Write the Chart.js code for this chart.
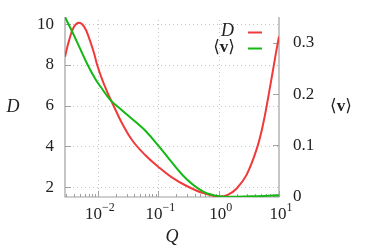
<!DOCTYPE html>
<html><head><meta charset="utf-8">
<script src="https://cdn.jsdelivr.net/npm/chart.js@4"></script>
<style>html,body{margin:0;padding:0;background:#fff}#wrap{width:374px;height:249px}</style>
</head><body><div id="wrap"><canvas id="c" width="374" height="249"></canvas></div>
<script>
// ---- data ----
const qD = [0.00285,0.00332,0.00401,0.00485,0.00587,0.0071,0.00859,0.00973,0.01178,0.01425,0.01616,0.01954,0.02523,0.0369,0.0612,0.0993,0.163,0.296,0.556,1.02,1.44,1.99,2.9,4.25,5.46,7.04,8.85,10];
const dVals = [8.4,9.2,9.88,10.08,9.9,9.35,8.6,8.0,7.28,6.68,6.32,5.8,5.12,4.3,3.56,3.0,2.5,2.05,1.7,1.53,1.63,1.93,2.6,3.85,5.1,6.85,8.55,9.4];
const qV = [0.00285,0.00376,0.00485,0.00665,0.00912,0.01178,0.01616,0.02523,0.0414,0.0612,0.102,0.163,0.296,0.556,1.02,1.99,4.5,10];
const vVals = [0.351,0.322,0.294,0.259,0.229,0.21,0.188,0.168,0.146,0.128,0.098,0.068,0.033,0.009,0.0,-0.001,0.0,0.0015];
const xTicks = [0.01,0.1,1,10];
const xTickExp = ['\u22122','\u22121','0','1'];
const dTicks = [2,4,6,8,10];
const vTicks = [0,0.1,0.2,0.3];
const vTickLabels = ['0','0.1','0.2','0.3'];

const RED = '#f03a3a', GREEN = '#13b813';
const AXIS = '#a0a0a0', GRID = '#c4c4c4';
const FONT = '"Liberation Serif", "DejaVu Serif", serif';

const axesPlugin = {
  id: 'axesPlugin',
  beforeDatasetsDraw(chart) {
    const ctx = chart.ctx, a = chart.chartArea;
    const x = chart.scales.x, yD = chart.scales.yD, yV = chart.scales.yV;
    ctx.save();
    // grid
    ctx.strokeStyle = GRID; ctx.lineWidth = 1; ctx.setLineDash([1,3]);
    dTicks.forEach(t => { const py = Math.round(yD.getPixelForValue(t)) + 0.5;
      ctx.beginPath(); ctx.moveTo(a.left, py); ctx.lineTo(a.right, py); ctx.stroke(); });
    xTicks.slice(0,3).forEach(t => { const px = Math.round(x.getPixelForValue(t)) + 0.5;
      ctx.beginPath(); ctx.moveTo(px, a.bottom); ctx.lineTo(px, a.top); ctx.stroke(); });
    ctx.setLineDash([]);
    // axes lines
    ctx.strokeStyle = AXIS; ctx.lineWidth = 1.2;
    ctx.beginPath();
    ctx.moveTo(a.left, a.top); ctx.lineTo(a.left, a.bottom); ctx.lineTo(a.right, a.bottom); ctx.lineTo(a.right, a.top);
    ctx.stroke();
    // ticks
    ctx.lineWidth = 1;
    dTicks.forEach(t => { const py = Math.round(yD.getPixelForValue(t)) + 0.5;
      ctx.beginPath(); ctx.moveTo(a.left, py); ctx.lineTo(a.left + 6, py); ctx.stroke(); });
    vTicks.forEach(t => { const py = Math.round(yV.getPixelForValue(t)) + 0.5;
      ctx.beginPath(); ctx.moveTo(a.right, py); ctx.lineTo(a.right - 6, py); ctx.stroke(); });
    for (let k = -3; k <= 1; k++) {
      for (let m = 1; m <= 9; m++) {
        const v = m * Math.pow(10, k);
        if (v < x.min || v > x.max) continue;
        const px = Math.round(x.getPixelForValue(v)) + 0.5;
        const len = m === 1 ? 6 : 3;
        ctx.beginPath(); ctx.moveTo(px, a.bottom); ctx.lineTo(px, a.bottom - len); ctx.stroke();
      }
    }
    // x tick labels
    ctx.fillStyle = '#222';
    ctx.textBaseline = 'alphabetic';
    xTicks.forEach((t, i) => {
      const px = x.getPixelForValue(t);
      ctx.font = '17px ' + FONT;
      const w1 = ctx.measureText('10').width;
      ctx.font = '12px ' + FONT;
      const w2 = ctx.measureText(xTickExp[i]).width;
      const left = px - (w1 + w2) / 2 + 2;
      ctx.font = '17px ' + FONT; ctx.textAlign = 'left';
      ctx.fillText('10', left, 218.5);
      ctx.font = '12px ' + FONT;
      ctx.fillText(xTickExp[i], left + w1, 211);
    });
    ctx.restore();
  },
  afterDraw(chart) {
    const ctx = chart.ctx;
    ctx.save();
    ctx.fillStyle = '#222';
    ctx.textBaseline = 'middle';
    // axis titles
    ctx.font = 'italic 18px ' + FONT; ctx.textAlign = 'center';
    ctx.fillText('D', 13, 107);
    ctx.fillText('Q', 172, 237);
    drawBracketV(ctx, 341, 107, 'center');
    // legend
    ctx.font = 'italic 18px ' + FONT; ctx.textAlign = 'right';
    ctx.fillText('D', 234, 31.5);
    drawBracketV(ctx, 235, 47.5, 'right');
    ctx.lineWidth = 2;
    ctx.strokeStyle = RED; ctx.beginPath(); ctx.moveTo(248, 32.5); ctx.lineTo(262, 32.5); ctx.stroke();
    ctx.strokeStyle = GREEN; ctx.beginPath(); ctx.moveTo(248, 48.5); ctx.lineTo(262, 48.5); ctx.stroke();
    ctx.restore();
  }
};

function drawBracketV(ctx, x, y, align) {
  const fN = '17px ' + FONT, fB = 'bold 17px ' + FONT;
  ctx.font = fN; const wl = ctx.measureText('\u27E8').width, wr = ctx.measureText('\u27E9').width;
  ctx.font = fB; const wv = ctx.measureText('v').width;
  const total = wl + wv + wr;
  let left = align === 'center' ? x - total / 2 : x - total;
  ctx.textAlign = 'left';
  ctx.font = fN; ctx.fillText('\u27E8', left, y);
  ctx.font = fB; ctx.fillText('v', left + wl, y);
  ctx.font = fN; ctx.fillText('\u27E9', left + wl + wv, y);
}

new Chart(document.getElementById('c'), {
  type: 'line',
  data: {
    datasets: [
      { label: '\u27E8v\u27E9', data: qV.map((q, i) => ({x: q, y: vVals[i]})), yAxisID: 'yV',
        borderColor: GREEN, borderWidth: 2, pointRadius: 0, tension: 0.4, fill: false },
      { label: 'D', data: qD.map((q, i) => ({x: q, y: dVals[i]})), yAxisID: 'yD',
        borderColor: RED, borderWidth: 2, pointRadius: 0, tension: 0.4, fill: false }
    ]
  },
  options: {
    responsive: false, animation: false, devicePixelRatio: 1,
    layout: { padding: { top: 17, left: 0, right: 0, bottom: 0 } },
    plugins: { legend: { display: false }, tooltip: { enabled: false } },
    scales: {
      x: { type: 'logarithmic', position: 'bottom', min: 0.00285, max: 10,
        grid: { display: false }, border: { display: false },
        ticks: { display: false },
        afterFit(s) { s.height = 52; s.paddingLeft = 0; s.paddingRight = 0; } },
      yD: { type: 'linear', position: 'left', min: 1.51, max: 10.36,
        grid: { display: false, drawTicks: false }, border: { display: false },
        afterBuildTicks(s) { s.ticks = dTicks.map(v => ({value: v})); },
        ticks: { padding: 11, color: '#222', font: { family: FONT, size: 17 }, callback: v => String(v) },
        afterFit(s) { s.width = 65; s.paddingTop = 0; s.paddingBottom = 0; } },
      yV: { type: 'linear', position: 'right', min: -0.0017, max: 0.351,
        grid: { display: false, drawTicks: false }, border: { display: false },
        afterBuildTicks(s) { s.ticks = vTicks.map(v => ({value: v})); },
        ticks: { padding: 14, color: '#222', font: { family: FONT, size: 17 },
          callback: (v) => vTickLabels[vTicks.indexOf(v)] ?? '' },
        afterFit(s) { s.width = 95; s.paddingTop = 0; s.paddingBottom = 0; } }
    }
  },
  plugins: [axesPlugin]
});
</script></body></html>
